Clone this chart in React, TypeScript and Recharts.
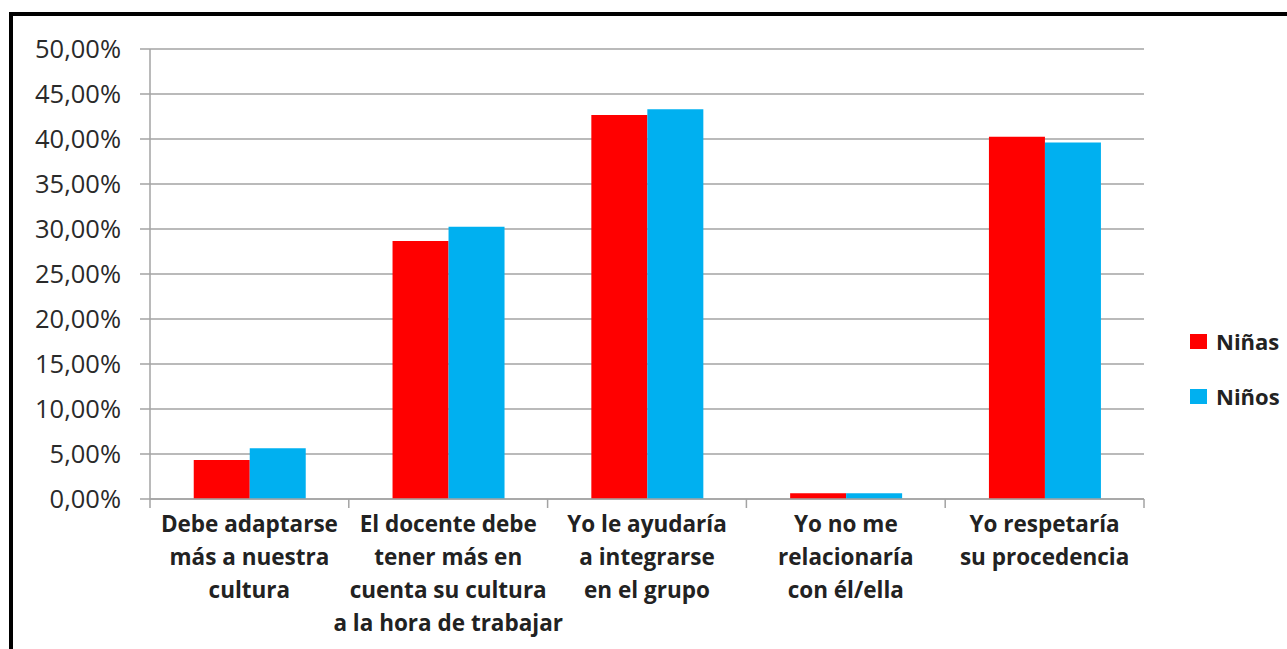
import { BarChart, Bar, XAxis, YAxis, CartesianGrid } from "recharts";

const categories = [
  "Debe adaptarse\nmás a nuestra\ncultura",
  "El docente debe\ntener más en\ncuenta su cultura\na la hora de trabajar",
  "Yo le ayudaría\na integrarse\nen el grupo",
  "Yo no me\nrelacionaría\ncon él/ella",
  "Yo respetaría\nsu procedencia",
];
const ninas = [4.33, 28.67, 42.67, 0.63, 40.26];
const ninos = [5.63, 30.26, 43.3, 0.63, 39.6];
const yTicks = [0, 5, 10, 15, 20, 25, 30, 35, 40, 45, 50];

const series = [
  { key: "ninas", name: "Niñas", color: "#ff0000" },
  { key: "ninos", name: "Niños", color: "#00b0f0" },
];

const data = categories.map((c, i) => ({ cat: c, ninas: ninas[i], ninos: ninos[i] }));

const GRID = "#a3a3a3";
const FONT = "'Open Sans', sans-serif";

const fmtPct = (v: number) => v.toFixed(2).replace(".", ",") + "%";

function CategoryTick(props: any) {
  const { x, y, payload, index } = props;
  const half = payload.offset || 0;
  const lines = String(payload.value).split("\n");
  return (
    <g>
      <line x1={x - half} x2={x - half} y1={y} y2={y + 9} stroke={GRID} strokeWidth={1.5} />
      {index === categories.length - 1 && (
        <line x1={x + half} x2={x + half} y1={y} y2={y + 9} stroke={GRID} strokeWidth={1.5} />
      )}
      <text x={x} y={y + 33} textAnchor="middle" fontFamily={FONT} fontWeight="bold" fontSize={22.5} fill="#222">
        {lines.map((l, i) => (
          <tspan key={i} x={x} dy={i === 0 ? 0 : 33}>
            {l}
          </tspan>
        ))}
      </text>
    </g>
  );
}

export default function App() {
  return (
    <div style={{ position: "fixed", left: 0, top: 0, width: 1287, height: 649, background: "#fff", overflow: "hidden" }}>
      <div
        style={{
          position: "absolute",
          left: 9,
          top: 12,
          right: -10,
          bottom: -10,
          borderLeft: "4px solid #000",
          borderTop: "4px solid #000",
        }}
      />
      <div style={{ position: "absolute", left: 0, top: 0 }}>
        <BarChart
          width={1287}
          height={649}
          data={data}
          margin={{ top: 49, right: 143, left: 0, bottom: 10 }}
          barGap={0}
          barCategoryGap="22%"
        >
          <CartesianGrid vertical={false} stroke={GRID} strokeWidth={1.5} />
          <XAxis
            dataKey="cat"
            height={140}
            interval={0}
            tickLine={false}
            tickSize={0}
            tickMargin={0}
            axisLine={{ stroke: GRID, strokeWidth: 1.5 }}
            tick={<CategoryTick />}
          />
          <YAxis
            width={150}
            domain={[0, 50]}
            ticks={yTicks}
            tickFormatter={fmtPct}
            axisLine={{ stroke: GRID, strokeWidth: 1.5 }}
            tickLine={{ stroke: GRID, strokeWidth: 1.5 }}
            tickSize={10}
            tickMargin={19}
            tick={{ fontFamily: FONT, fontSize: 25.5, fill: "#2a2a2a" }}
          />
          {series.map((s) => (
            <Bar key={s.key} dataKey={s.key} name={s.name} fill={s.color} isAnimationActive={false} />
          ))}
        </BarChart>
      </div>
      <div
        style={{
          position: "absolute",
          left: 1190,
          top: 327,
          fontFamily: FONT,
          fontWeight: "bold",
          fontSize: 22,
          color: "#222",
        }}
      >
        {series.map((s, i) => (
          <div key={s.key} style={{ display: "flex", alignItems: "center", height: 28, marginBottom: i === 0 ? 27 : 0 }}>
            <span style={{ display: "inline-block", width: 17, height: 15, background: s.color, marginRight: 9 }} />
            {s.name}
          </div>
        ))}
      </div>
    </div>
  );
}
